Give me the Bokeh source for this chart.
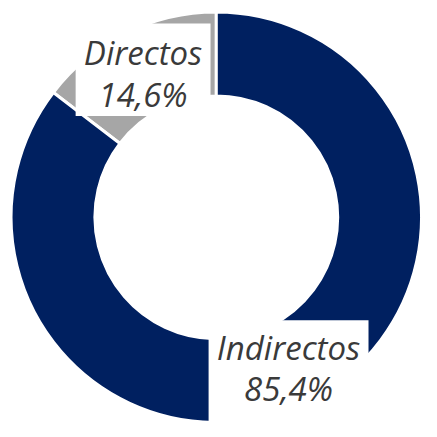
import math
from bokeh.plotting import figure
from bokeh.models import Range1d, ColumnDataSource
from bokeh.core.properties import value
from bokeh.embed import file_html
from bokeh.resources import INLINE

categories = ["Directos", "Indirectos"]
shares = [14.6, 85.4]
share_labels = ["14,6%", "85,4%"]
colors = ["#A6A6A6", "#002060"]

# geometry in reference pixel units (y negative downward)
W = 421
cx, cy = 224, -225
r_out, r_in = 213, 126

p = figure(width=W, height=W, output_backend="svg", toolbar_location=None,
           x_range=Range1d(0, 437), y_range=Range1d(-437, 0),
           min_border=0, outline_line_color=None)
p.axis.visible = False
p.grid.visible = False
p.background_fill_color = "white"
p.border_fill_color = "white"

# start at 12 o'clock, Directos goes counterclockwise first
total = sum(shares)
starts, ends = [], []
a = math.pi / 2
for s in shares:
    starts.append(a)
    a += 2 * math.pi * s / total
    ends.append(a)

src = ColumnDataSource(dict(cat=categories, start=starts, end=ends, color=colors))
p.annular_wedge(x=cx, y=cy, inner_radius=r_in, outer_radius=r_out,
                start_angle="start", end_angle="end", fill_color="color",
                line_color="white", line_width=3, source=src)

# label boxes
p.quad(left=[78, 216], right=[218, 382], top=[-24, -332], bottom=[-120, -450],
       fill_color="white", line_color=None)

font = value("Open Sans")
lx = [148, 299]
name_y = [-54, -360]
pct_y = [-98, -403]
fs = "33px"
p.text(x=lx, y=name_y, text=categories, text_font=font, text_font_size=fs,
       text_font_style="italic", text_color="#3a3a3a", text_align="center",
       text_baseline="alphabetic")
p.text(x=lx, y=pct_y, text=share_labels, text_font=font, text_font_size=fs,
       text_font_style="italic", text_color="#3a3a3a", text_align="center",
       text_baseline="alphabetic")

open("out.html", "w").write(file_html(p, INLINE))
